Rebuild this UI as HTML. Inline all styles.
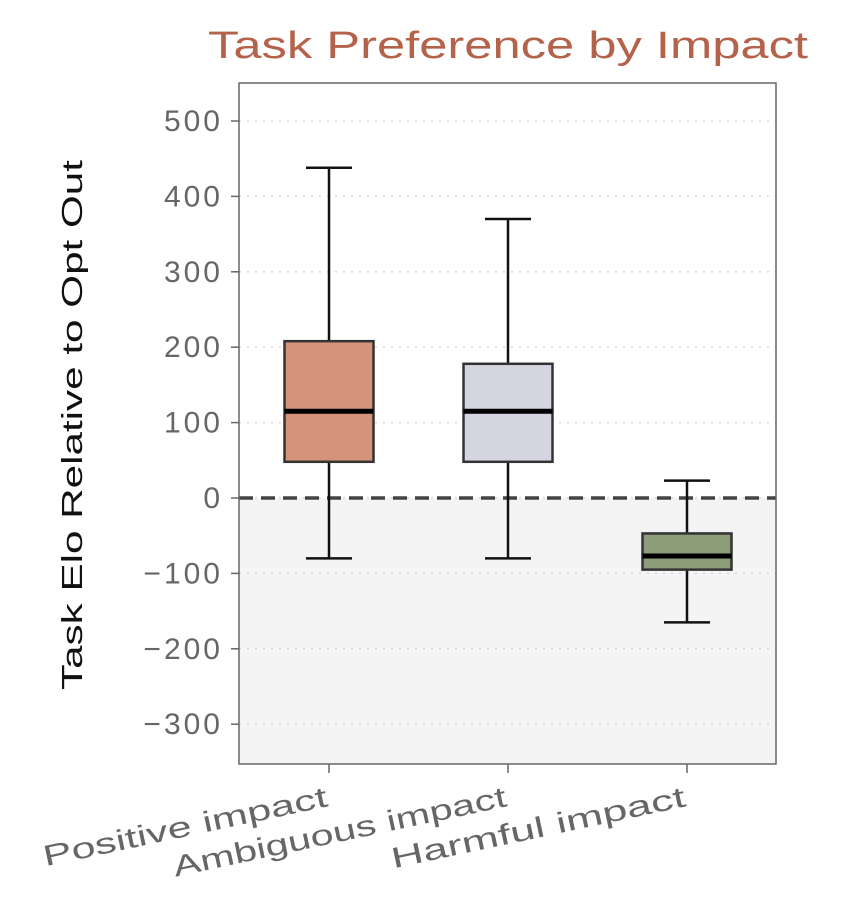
<!DOCTYPE html>
<html><head><meta charset="utf-8"><style>
body{margin:0;background:#fff;}
svg{display:block;font-family:"Liberation Sans",sans-serif;}
</style></head><body>
<svg id="chart" width="842" height="916">
<rect x="0" y="0" width="842" height="916" fill="#fff"/>
<text x="508" y="58" text-anchor="middle" font-size="38" fill="#b5624b" textLength="600" lengthAdjust="spacingAndGlyphs">Task Preference by Impact</text>
<text transform="translate(82,425) rotate(-90)" text-anchor="middle" font-size="29" fill="#111" textLength="530" lengthAdjust="spacingAndGlyphs">Task Elo Relative to Opt Out</text>
<g id="plot"></g>
</svg>
<script>
const categories=["Positive impact","Ambiguous impact","Harmful impact"];
const whiskerHigh=[438,370,23];
const q3=[208,178,-47];
const medians=[115,115,-77];
const q1=[48,48,-95];
const whiskerLow=[-80,-80,-165];
const colors=["#d4937a","#d5d5e2","#8d9c78"];
const yTicks=[500,400,300,200,100,0,-100,-200,-300];
const yTickLabels=["500","400","300","200","100","0","\u2212100","\u2212200","\u2212300"];
const labelLen=[290,340,300];
const L=239,R=776,T=83,B=764;
const y=v=>498-v*0.754;
const x=i=>329+i*179;
const ns="http://www.w3.org/2000/svg";
const g=document.getElementById('plot');
function mk(t,a){const e=document.createElementNS(ns,t);for(const k in a)e.setAttribute(k,a[k]);g.appendChild(e);return e;}
let e=mk('rect',{x:L,y:T,width:R-L,height:B-T,fill:'#fff'});


e=mk('rect',{x:L,y:y(0),width:R-L,height:B-y(0),fill:'#f4f4f4'});


yTicks.forEach((v,i)=>{
 let gl=mk('line',{x1:L,x2:R,y1:y(v),y2:y(v),stroke:'#d8d8d8','stroke-dasharray':'2 6','stroke-width':1.5});
 
 
 let tk=mk('line',{x1:L-8,x2:L,y1:y(v),y2:y(v),stroke:'#666','stroke-width':1.5});
 
 
 let t=mk('text',{x:L-16,y:y(v)+10,'text-anchor':'end','font-size':30,fill:'#666','letter-spacing':'3'});
 t.textContent=yTickLabels[i];
 
 
});
e=mk('line',{x1:L,x2:R,y1:y(0),y2:y(0),stroke:'#444','stroke-width':3.5,'stroke-dasharray':'14 8'});


categories.forEach((c,i)=>{
 const cx=x(i),w=89,cw=46;
 let a=mk('line',{x1:cx,x2:cx,y1:y(whiskerHigh[i]),y2:y(q3[i]),stroke:'#111','stroke-width':2.5});
 
 
 a=mk('line',{x1:cx,x2:cx,y1:y(q1[i]),y2:y(whiskerLow[i]),stroke:'#111','stroke-width':2.5});
 
 
 a=mk('line',{x1:cx-cw/2,x2:cx+cw/2,y1:y(whiskerHigh[i]),y2:y(whiskerHigh[i]),stroke:'#111','stroke-width':2.5});
 
 
 a=mk('line',{x1:cx-cw/2,x2:cx+cw/2,y1:y(whiskerLow[i]),y2:y(whiskerLow[i]),stroke:'#111','stroke-width':2.5});
 
 
 a=mk('rect',{x:cx-w/2,y:y(q3[i]),width:w,height:y(q1[i])-y(q3[i]),fill:colors[i],stroke:'#333','stroke-width':2.5});
 
 
 a=mk('line',{x1:cx-w/2,x2:cx+w/2,y1:y(medians[i]),y2:y(medians[i]),stroke:'#000','stroke-width':5});
 
 
 a=mk('line',{x1:cx,x2:cx,y1:B,y2:B+9,stroke:'#666','stroke-width':1.5});
 
 
 a=mk('text',{x:cx,y:B+42,'text-anchor':'end','font-size':29,fill:'#666',textLength:labelLen[i],lengthAdjust:'spacingAndGlyphs',transform:`rotate(-12 ${cx} ${B+42})`});
 a.textContent=c;
 
 
});
e=mk('rect',{x:L,y:T,width:R-L,height:B-T,fill:'none',stroke:'#666','stroke-width':1.5});


</script>
</body></html>
